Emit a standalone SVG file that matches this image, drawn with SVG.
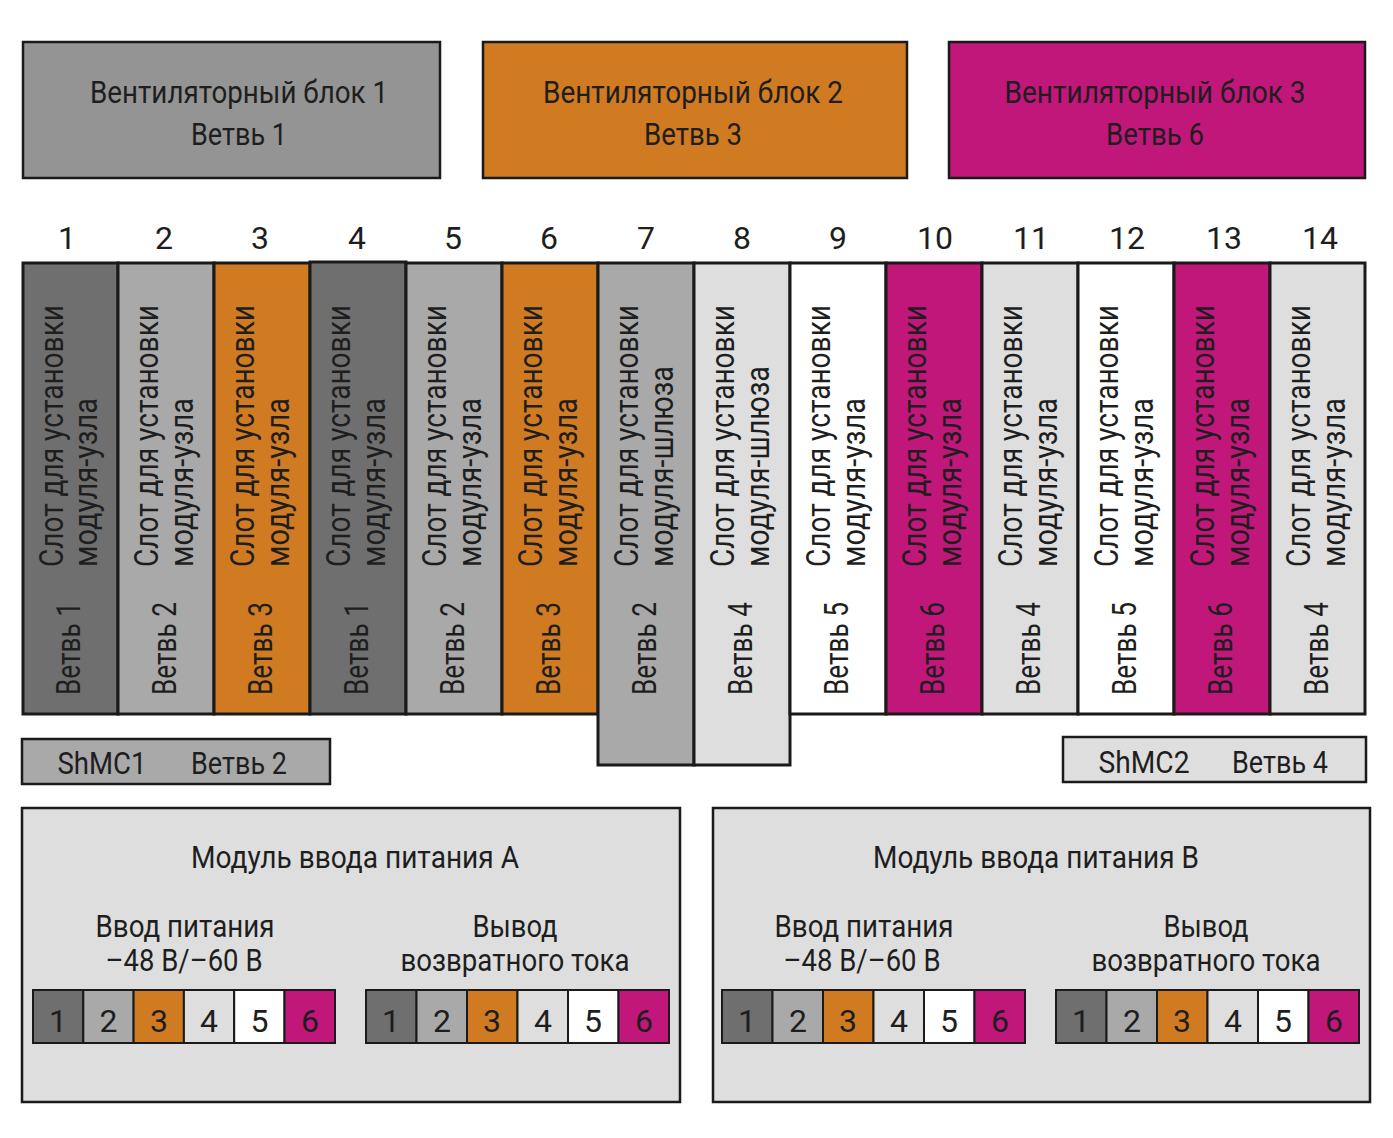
<svg xmlns="http://www.w3.org/2000/svg" width="1393" height="1138" viewBox="0 0 1393 1138">
<style>
text{font-family:"Roboto","Liberation Sans",sans-serif;fill:#1e1e1e}
.h{font-size:31px;text-anchor:middle}
.v{font-size:33px}
.n{font-size:32px;text-anchor:middle}
.box{stroke:#1a1a1a;stroke-width:2.5}
.slot{stroke:#1a1a1a;stroke-width:3}
.cell{stroke:#1a1a1a;stroke-width:2}
.c1{fill:#6f6f6f}.c2{fill:#a9a9a9}.c3{fill:#d07a22}.c4{fill:#dedede}.c5{fill:#ffffff}.c6{fill:#c1167a}
</style>
<rect width="1393" height="1138" fill="#ffffff"/>
<g id="fan1"><rect class="box" x="23" y="42" width="417" height="136" fill="#949494"/>
<text class="h" x="239" y="103" textLength="298" lengthAdjust="spacingAndGlyphs">Вентиляторный блок 1</text>
<text class="h" x="239" y="145" textLength="96" lengthAdjust="spacingAndGlyphs">Ветвь 1</text></g>
<g id="fan2"><rect class="box" x="483" y="42" width="424" height="136" fill="#d07a22"/>
<text class="h" x="693" y="103" textLength="300" lengthAdjust="spacingAndGlyphs">Вентиляторный блок 2</text>
<text class="h" x="693" y="145" textLength="98" lengthAdjust="spacingAndGlyphs">Ветвь 3</text></g>
<g id="fan3"><rect class="box" x="949" y="42" width="416" height="136" fill="#c1167a"/>
<text class="h" x="1155" y="103" textLength="301" lengthAdjust="spacingAndGlyphs">Вентиляторный блок 3</text>
<text class="h" x="1155" y="145" textLength="98" lengthAdjust="spacingAndGlyphs">Ветвь 6</text></g>
<g id="slot-numbers">
<text class="n" x="67" y="249">1</text><text class="n" x="164" y="249">2</text><text class="n" x="260" y="249">3</text><text class="n" x="357" y="249">4</text><text class="n" x="453" y="249">5</text><text class="n" x="549" y="249">6</text><text class="n" x="646" y="249">7</text><text class="n" x="742" y="249">8</text><text class="n" x="838" y="249">9</text><text class="n" x="935" y="249">10</text><text class="n" x="1031" y="249">11</text><text class="n" x="1127" y="249">12</text><text class="n" x="1224" y="249">13</text><text class="n" x="1320" y="249">14</text>
</g>
<g id="slots">
<g id="slot1"><rect class="slot c1" x="23" y="263" width="95" height="451"/>
<text class="v" transform="translate(63,567) rotate(-90)" textLength="262" lengthAdjust="spacingAndGlyphs">Слот для установки</text>
<text class="v" transform="translate(97,567) rotate(-90)" textLength="169" lengthAdjust="spacingAndGlyphs">модуля-узла</text>
<text class="v" transform="translate(80,695) rotate(-90)" textLength="93" lengthAdjust="spacingAndGlyphs">Ветвь 1</text></g>
<g id="slot2"><rect class="slot c2" x="118" y="263" width="96" height="451"/>
<text class="v" transform="translate(158,567) rotate(-90)" textLength="262" lengthAdjust="spacingAndGlyphs">Слот для установки</text>
<text class="v" transform="translate(193,567) rotate(-90)" textLength="169" lengthAdjust="spacingAndGlyphs">модуля-узла</text>
<text class="v" transform="translate(176,695) rotate(-90)" textLength="93" lengthAdjust="spacingAndGlyphs">Ветвь 2</text></g>
<g id="slot3"><rect class="slot c3" x="214" y="263" width="96" height="451"/>
<text class="v" transform="translate(254,567) rotate(-90)" textLength="262" lengthAdjust="spacingAndGlyphs">Слот для установки</text>
<text class="v" transform="translate(289,567) rotate(-90)" textLength="169" lengthAdjust="spacingAndGlyphs">модуля-узла</text>
<text class="v" transform="translate(272,695) rotate(-90)" textLength="93" lengthAdjust="spacingAndGlyphs">Ветвь 3</text></g>
<g id="slot4"><rect class="slot c1" x="310" y="262" width="96" height="452"/>
<text class="v" transform="translate(350,567) rotate(-90)" textLength="262" lengthAdjust="spacingAndGlyphs">Слот для установки</text>
<text class="v" transform="translate(385,567) rotate(-90)" textLength="169" lengthAdjust="spacingAndGlyphs">модуля-узла</text>
<text class="v" transform="translate(368,695) rotate(-90)" textLength="93" lengthAdjust="spacingAndGlyphs">Ветвь 1</text></g>
<g id="slot5"><rect class="slot c2" x="406" y="263" width="96" height="451"/>
<text class="v" transform="translate(446,567) rotate(-90)" textLength="262" lengthAdjust="spacingAndGlyphs">Слот для установки</text>
<text class="v" transform="translate(481,567) rotate(-90)" textLength="169" lengthAdjust="spacingAndGlyphs">модуля-узла</text>
<text class="v" transform="translate(464,695) rotate(-90)" textLength="93" lengthAdjust="spacingAndGlyphs">Ветвь 2</text></g>
<g id="slot6"><rect class="slot c3" x="502" y="263" width="96" height="451"/>
<text class="v" transform="translate(542,567) rotate(-90)" textLength="262" lengthAdjust="spacingAndGlyphs">Слот для установки</text>
<text class="v" transform="translate(577,567) rotate(-90)" textLength="169" lengthAdjust="spacingAndGlyphs">модуля-узла</text>
<text class="v" transform="translate(560,695) rotate(-90)" textLength="93" lengthAdjust="spacingAndGlyphs">Ветвь 3</text></g>
<g id="slot7"><rect class="slot c2" x="598" y="263" width="96" height="502"/>
<text class="v" transform="translate(638,567) rotate(-90)" textLength="262" lengthAdjust="spacingAndGlyphs">Слот для установки</text>
<text class="v" transform="translate(673,567) rotate(-90)" textLength="201" lengthAdjust="spacingAndGlyphs">модуля-шлюза</text>
<text class="v" transform="translate(656,695) rotate(-90)" textLength="93" lengthAdjust="spacingAndGlyphs">Ветвь 2</text></g>
<g id="slot8"><rect class="slot c4" x="694" y="263" width="96" height="502"/>
<text class="v" transform="translate(734,567) rotate(-90)" textLength="262" lengthAdjust="spacingAndGlyphs">Слот для установки</text>
<text class="v" transform="translate(769,567) rotate(-90)" textLength="201" lengthAdjust="spacingAndGlyphs">модуля-шлюза</text>
<text class="v" transform="translate(752,695) rotate(-90)" textLength="93" lengthAdjust="spacingAndGlyphs">Ветвь 4</text></g>
<g id="slot9"><rect class="slot c5" x="790" y="263" width="96" height="451"/>
<text class="v" transform="translate(830,567) rotate(-90)" textLength="262" lengthAdjust="spacingAndGlyphs">Слот для установки</text>
<text class="v" transform="translate(865,567) rotate(-90)" textLength="169" lengthAdjust="spacingAndGlyphs">модуля-узла</text>
<text class="v" transform="translate(848,695) rotate(-90)" textLength="93" lengthAdjust="spacingAndGlyphs">Ветвь 5</text></g>
<g id="slot10"><rect class="slot c6" x="886" y="263" width="96" height="451"/>
<text class="v" transform="translate(926,567) rotate(-90)" textLength="262" lengthAdjust="spacingAndGlyphs">Слот для установки</text>
<text class="v" transform="translate(961,567) rotate(-90)" textLength="169" lengthAdjust="spacingAndGlyphs">модуля-узла</text>
<text class="v" transform="translate(944,695) rotate(-90)" textLength="93" lengthAdjust="spacingAndGlyphs">Ветвь 6</text></g>
<g id="slot11"><rect class="slot c4" x="982" y="263" width="96" height="451"/>
<text class="v" transform="translate(1022,567) rotate(-90)" textLength="262" lengthAdjust="spacingAndGlyphs">Слот для установки</text>
<text class="v" transform="translate(1057,567) rotate(-90)" textLength="169" lengthAdjust="spacingAndGlyphs">модуля-узла</text>
<text class="v" transform="translate(1040,695) rotate(-90)" textLength="93" lengthAdjust="spacingAndGlyphs">Ветвь 4</text></g>
<g id="slot12"><rect class="slot c5" x="1078" y="263" width="96" height="451"/>
<text class="v" transform="translate(1118,567) rotate(-90)" textLength="262" lengthAdjust="spacingAndGlyphs">Слот для установки</text>
<text class="v" transform="translate(1153,567) rotate(-90)" textLength="169" lengthAdjust="spacingAndGlyphs">модуля-узла</text>
<text class="v" transform="translate(1136,695) rotate(-90)" textLength="93" lengthAdjust="spacingAndGlyphs">Ветвь 5</text></g>
<g id="slot13"><rect class="slot c6" x="1174" y="263" width="96" height="451"/>
<text class="v" transform="translate(1214,567) rotate(-90)" textLength="262" lengthAdjust="spacingAndGlyphs">Слот для установки</text>
<text class="v" transform="translate(1249,567) rotate(-90)" textLength="169" lengthAdjust="spacingAndGlyphs">модуля-узла</text>
<text class="v" transform="translate(1232,695) rotate(-90)" textLength="93" lengthAdjust="spacingAndGlyphs">Ветвь 6</text></g>
<g id="slot14"><rect class="slot c4" x="1270" y="263" width="95" height="451"/>
<text class="v" transform="translate(1310,567) rotate(-90)" textLength="262" lengthAdjust="spacingAndGlyphs">Слот для установки</text>
<text class="v" transform="translate(1345,567) rotate(-90)" textLength="169" lengthAdjust="spacingAndGlyphs">модуля-узла</text>
<text class="v" transform="translate(1328,695) rotate(-90)" textLength="93" lengthAdjust="spacingAndGlyphs">Ветвь 4</text></g>
</g>
<g id="shmc1"><rect class="box" x="22" y="739" width="308" height="45" fill="#a9a9a9"/>
<text class="h" x="102" y="774" textLength="89" lengthAdjust="spacingAndGlyphs">ShMC1</text>
<text class="h" x="239" y="774" textLength="96" lengthAdjust="spacingAndGlyphs">Ветвь 2</text></g>
<g id="shmc2"><rect class="box" x="1063" y="737" width="303" height="45" fill="#dedede"/>
<text class="h" x="1144" y="773" textLength="91" lengthAdjust="spacingAndGlyphs">ShMC2</text>
<text class="h" x="1280" y="773" textLength="96" lengthAdjust="spacingAndGlyphs">Ветвь 4</text></g>
<g id="power-a"><rect class="box" x="22" y="808" width="658" height="294" fill="#dedede"/>
<text class="h" x="355" y="868" textLength="328" lengthAdjust="spacingAndGlyphs">Модуль ввода питания A</text>
<text class="h" x="185" y="937" textLength="179" lengthAdjust="spacingAndGlyphs">Ввод питания</text>
<text class="h" x="184" y="971" textLength="157" lengthAdjust="spacingAndGlyphs">–48 В/–60 В</text>
<text class="h" x="515" y="937" textLength="85" lengthAdjust="spacingAndGlyphs">Вывод</text>
<text class="h" x="515" y="971" textLength="229" lengthAdjust="spacingAndGlyphs">возвратного тока</text>
<g id="a-in"><rect class="cell c1" x="33" y="990" width="50.3" height="53"/><rect class="cell c2" x="83.3" y="990" width="50.3" height="53"/><rect class="cell c3" x="133.6" y="990" width="50.3" height="53"/><rect class="cell c4" x="183.9" y="990" width="50.3" height="53"/><rect class="cell c5" x="234.2" y="990" width="50.3" height="53"/><rect class="cell c6" x="284.5" y="990" width="50.5" height="53"/>
<text class="n" x="58" y="1032">1</text><text class="n" x="108.5" y="1032">2</text><text class="n" x="159" y="1032">3</text><text class="n" x="209" y="1032">4</text><text class="n" x="259.5" y="1032">5</text><text class="n" x="310" y="1032">6</text></g>
<g id="a-out"><rect class="cell c1" x="366" y="990" width="50.5" height="53"/><rect class="cell c2" x="416.5" y="990" width="50.5" height="53"/><rect class="cell c3" x="467" y="990" width="50.5" height="53"/><rect class="cell c4" x="517.5" y="990" width="50.5" height="53"/><rect class="cell c5" x="568" y="990" width="50.5" height="53"/><rect class="cell c6" x="618.5" y="990" width="50.5" height="53"/>
<text class="n" x="391" y="1032">1</text><text class="n" x="442" y="1032">2</text><text class="n" x="492" y="1032">3</text><text class="n" x="543" y="1032">4</text><text class="n" x="593" y="1032">5</text><text class="n" x="644" y="1032">6</text></g></g>
<g id="power-b"><rect class="box" x="713" y="808" width="657" height="294" fill="#dedede"/>
<text class="h" x="1036" y="868" textLength="326" lengthAdjust="spacingAndGlyphs">Модуль ввода питания B</text>
<text class="h" x="864" y="937" textLength="179" lengthAdjust="spacingAndGlyphs">Ввод питания</text>
<text class="h" x="862" y="971" textLength="157" lengthAdjust="spacingAndGlyphs">–48 В/–60 В</text>
<text class="h" x="1206" y="937" textLength="85" lengthAdjust="spacingAndGlyphs">Вывод</text>
<text class="h" x="1206" y="971" textLength="229" lengthAdjust="spacingAndGlyphs">возвратного тока</text>
<g id="b-in"><rect class="cell c1" x="722" y="990" width="50.5" height="53"/><rect class="cell c2" x="772.5" y="990" width="50.5" height="53"/><rect class="cell c3" x="823" y="990" width="50.5" height="53"/><rect class="cell c4" x="873.5" y="990" width="50.5" height="53"/><rect class="cell c5" x="924" y="990" width="50.5" height="53"/><rect class="cell c6" x="974.5" y="990" width="50.5" height="53"/>
<text class="n" x="747" y="1032">1</text><text class="n" x="798" y="1032">2</text><text class="n" x="848" y="1032">3</text><text class="n" x="899" y="1032">4</text><text class="n" x="949" y="1032">5</text><text class="n" x="1000" y="1032">6</text></g>
<g id="b-out"><rect class="cell c1" x="1056" y="990" width="50.5" height="53"/><rect class="cell c2" x="1106.5" y="990" width="50.5" height="53"/><rect class="cell c3" x="1157" y="990" width="50.5" height="53"/><rect class="cell c4" x="1207.5" y="990" width="50.5" height="53"/><rect class="cell c5" x="1258" y="990" width="50.5" height="53"/><rect class="cell c6" x="1308.5" y="990" width="50.5" height="53"/>
<text class="n" x="1081" y="1032">1</text><text class="n" x="1132" y="1032">2</text><text class="n" x="1182" y="1032">3</text><text class="n" x="1233" y="1032">4</text><text class="n" x="1283" y="1032">5</text><text class="n" x="1334" y="1032">6</text></g></g>
<g id="connectors"></g>
</svg>
